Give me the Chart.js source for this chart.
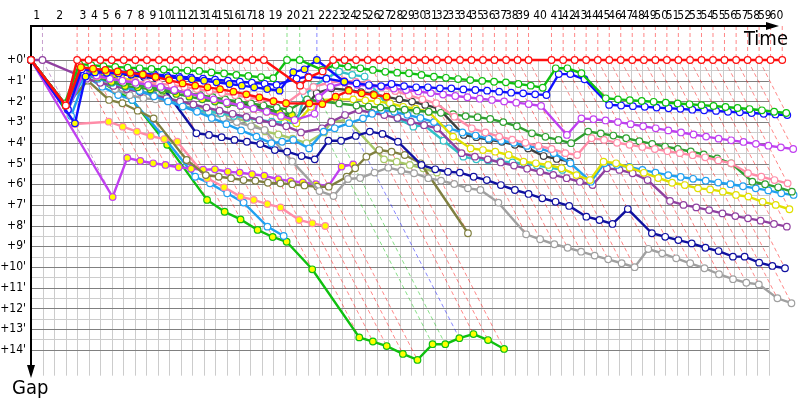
<!DOCTYPE html>
<html>
<head>
<meta charset="utf-8">
<title>Gap chart</title>
<script src="https://cdn.jsdelivr.net/npm/chart.js"></script>
<style>
  body { margin: 0; background: #fff; }
  #wrap { width: 800px; height: 400px; }
</style>
</head>
<body>
<div id="wrap"><canvas id="gapChart" width="800" height="400"></canvas></div>
<script>
// leader's race time (s) at the end of each lap, index = lap, 0 = start
var leaderTime = [0, 65, 261, 326, 392, 457, 525, 591, 656, 724,
  790, 855, 920, 985, 1054, 1119, 1184, 1253, 1318, 1449,
  1521, 1618, 1710, 1775, 1840, 1906, 1971, 2036, 2101, 2167,
  2232, 2297, 2362, 2428, 2493, 2558, 2623, 2689, 2754, 2816,
  2946, 3012, 3077, 3142, 3208, 3273, 3338, 3403, 3469, 3534,
  3599, 3664, 3730, 3795, 3860, 3925, 3991, 4056, 4121, 4186, 4252];
var gridStep = 65.26;   // vertical grid spacing (s)
var gapTicks = [0, 1, 2, 3, 4, 5, 6, 7, 8, 9, 10, 11, 12, 13, 14];

// gaps to the leader (minutes), one value per lap starting at lap 0
var redW = [0, 2.2, 0, 0, 0, 0, 0, 0, 0, 0, 0, 0, 0, 0, 0, 0, 0, 0, 0, 1.24, 0.84, 0.55,
  0, 0, 0, 0, 0, 0, 0, 0, 0, 0, 0, 0, 0, 0, 0, 0, 0, 0, 0, 0, 0, 0, 0, 0, 0, 0, 0, 0, 0, 0,
  0, 0, 0, 0, 0, 0, 0, 0, 0];
var redY = [0, 2.2, 0.35, 0.42, 0.48, 0.55, 0.62, 0.7, 0.82, 0.97, 1.13, 1.24, 1.32, 1.41, 1.53,
  1.66, 1.81, 1.99, 2.09, 2.1, 2.13, 1.77, 1.48, 1.61, 1.69, 1.77];
var greenW = [0, 2.1, 0.2, 0.25, 0.3, 0.33, 0.37, 0.4, 0.43, 0.46, 0.49, 0.51, 0.53, 0.6, 0.65,
  0.72, 0.77, 0.83, 0.88, 0, 0, 0.48, 0.24, 0.32, 0.4, 0.48, 0.57, 0.61, 0.64, 0.72, 0.81, 0.86,
  0.92, 0.97, 1.01, 1.05, 1.08, 1.16, 1.24, 1.34, 0.4, 0.4, 0.64, 1.85, 1.9, 1.94, 1.98, 2.02,
  2.06, 2.1, 2.14, 2.18, 2.22, 2.27, 2.32, 2.37, 2.43, 2.5, 2.56];
var blueW = [0, 2.4, 0.45, 0.5, 0.52, 0.55, 0.6, 0.65, 0.7, 0.75, 0.8, 0.85, 0.9, 0.95, 1.0, 1.05,
  1.1, 1.15, 1.2, 0.9, 0.8, 0.9, 1.05, 1.13, 1.21, 1.26, 1.16, 1.26, 1.32, 1.32, 1.37, 1.37, 1.42,
  1.45, 1.48, 1.53, 1.58, 1.61, 1.66, 1.69, 0.68, 0.68, 0.93, 2.17, 2.2, 2.23, 2.26, 2.3, 2.33,
  2.36, 2.4, 2.43, 2.46, 2.5, 2.53, 2.56, 2.6, 2.63, 2.66];
var blueY = [0, 3.06, 0.8, 0.6, 0.62, 0.65, 0.7, 0.74, 0.78, 0.83, 0.88, 0.93, 1.0, 1.08, 1.16,
  1.24, 1.32, 1.4, 1.48, 0.59, 0.45, 0, 1.05];
var magentaY = [0, 6.62, 4.73, 4.88, 4.99, 5.07, 5.18, 5.25, 5.3, 5.28, 5.4, 5.44, 5.52, 5.59,
  5.76, 5.85, 5.91, 6.0, 6.09, 5.15, 5.04];
var magentaW = [0, 2.4, 0.6, 0.75, 0.9, 1.0, 1.1, 1.2, 1.3, 1.45, 1.6, 1.75, 1.9, 2.05, 2.2, 2.35,
  2.5, 2.7, 2.9, 2.6, 1.8, 1.3, 1.1, 1.2, 1.25, 1.3, 1.38, 1.45, 1.52, 1.6, 1.67, 1.74, 1.8, 1.87,
  1.93, 2.0, 2.06, 2.13, 2.22, 3.62, 2.82, 2.86, 2.92, 3.0, 3.1, 3.2, 3.3, 3.4, 3.5, 3.6, 3.7,
  3.8, 3.88, 3.96, 4.05, 4.14, 4.22, 4.3];
var pinkY = [0, 3.09, 2.98, 3.22, 3.46, 3.67, 3.82, 3.95, 5.71, 6.15, 6.6, 6.76, 6.96, 7.12,
  7.73, 7.89, 8.02];
var pinkW = [0, 2.3, 0.6, 0.8, 0.9, 1.0, 1.05, 1.1, 1.15, 1.2, 1.3, 1.4, 1.5, 1.6, 1.7, 1.8, 1.9,
  2.0, 2.1, 1.5, 1.3, 1.1, 1.0, 1.05, 1.13, 1.3, 1.5, 1.7, 1.9, 2.09, 2.74, 3.3, 3.5, 3.7, 3.85,
  4.0, 4.15, 4.3, 4.5, 4.59, 3.78, 3.86, 4.0, 4.1, 4.2, 4.3, 4.4, 4.5, 4.6, 4.7, 4.85, 4.99,
  5.47, 5.64, 5.8, 5.96];
var dkgreenY = [0, 2.2, 0.57, 0.84, 1.06, 1.26, 1.32, 1.42, 1.48, 1.64, 1.77, 1.9, 2.01, 2.13,
  2.22, 2.29, 2.42, 2.55, 2.65];
var dkgreenW = [0, 2.2, 0.45, 0.7, 0.9, 1.1, 1.2, 1.3, 1.4, 1.5, 1.6, 1.7, 1.8, 1.9, 2.0, 2.1, 2.2,
  2.3, 2.4, 1.9, 2.0, 2.1, 2.2, 2.25, 2.3, 2.35, 2.4, 2.45, 2.5, 2.55, 2.62, 2.71, 2.76, 2.85, 3.0,
  3.2, 3.54, 3.71, 3.86, 4.02, 3.46, 3.55, 3.65, 3.78, 3.92, 4.05, 4.18, 4.3, 4.42, 4.56, 4.75,
  4.99, 5.88, 6.0, 6.15, 6.36];
var olive = [0, 2.2, 1.0, 1.93, 2.09, 2.45, 2.82, 4.83, 5.56, 5.64, 5.71, 5.8, 5.83, 5.93, 5.96,
  6.0, 6.06, 6.12, 6.12, 5.64, 5.23, 4.67, 4.35, 4.43, 4.59, 4.99, 8.37];
var lightOlive = [0, 2.2, 0.6, 1.0, 1.1, 1.35, 1.5, 1.65, 1.8, 2.0, 2.2, 2.4, 2.6, 2.8, 3.0, 3.45,
  3.6, 3.8, 4.02, 3.5, 2.98, 2.9, 4.8, 4.91, 5.07, 5.23, 5.44];
var gray = [0, 2.2, 0.5, 1.0, 1.4, 1.7, 1.85, 1.9, 1.98, 2.17, 2.42, 2.6, 2.8, 3.0, 3.2, 3.38,
  4.9, 6.33, 6.57, 5.75, 5.7, 5.44, 5.2, 5.35, 5.47, 5.71, 5.83, 5.99, 6.2, 6.28, 6.89, 8.42,
  8.66, 8.9, 9.07, 9.26, 9.45, 9.63, 9.82, 10.01, 9.13, 9.34, 9.58, 9.82, 10.06, 10.35, 10.59,
  10.76, 10.84, 11.51, 11.75];
var navy = [0, 2.3, 0.5, 0.55, 0.6, 0.68, 0.75, 0.82, 0.88, 3.54, 3.62, 3.73, 3.86, 3.95, 4.06,
  4.35, 4.43, 4.64, 4.8, 3.9, 3.9, 3.67, 3.46, 3.57, 3.95, 5.07, 5.28, 5.4, 5.44, 5.64, 5.8, 6.04,
  6.28, 6.47, 6.68, 6.85, 7.05, 7.57, 7.73, 7.92, 7.2, 8.37, 8.54, 8.7, 8.86, 9.07, 9.23, 9.5,
  9.5, 9.79, 9.95, 10.06];
var skyLow = [0, 2.7, 0.8, 1.29, 1.69, 1.93, 3.62, 5.64, 5.96, 6.44, 6.89, 8.05, 8.5];
var greenY = [0, 2.2, 0.35, 1.0, 1.5, 1.93, 4.1, 6.76, 7.33, 7.7, 8.21, 8.55, 8.78, 10.11, 13.4,
  13.6, 13.82, 14.2, 14.49, 13.73, 13.73, 13.44, 13.24, 13.53, 13.96];
var cyan = [0, 2.3, 0.6, 0.8, 1.0, 1.2, 1.45, 1.7, 1.93, 2.22, 2.42, 2.5, 2.57, 2.7, 2.8, 2.9,
  2.98, 3.03, 3.05, 1.69, 1.29, 0.88, 0.56, 0.72, 0.8, 2.82, 3.22, 3.14, 3.9, 4.67, 4.8, 4.85,
  4.9, 4.95, 5.0, 5.1, 5.2, 5.31];
var black = [0, 2.3, 0.5, 0.6, 0.75, 0.9, 1.05, 1.2, 1.3, 1.45, 1.6, 1.75, 1.9, 2.0, 2.1, 2.2,
  2.3, 2.57, 2.9, 2.06, 1.6, 1.37, 1.45, 1.55, 1.65, 1.78, 1.9, 2.01, 2.17, 2.35, 3.62, 3.73,
  3.86, 3.95, 4.1, 4.27, 4.64, 4.78, 4.91];
var yellow = [0, 2.3, 0.5, 0.6, 0.7, 0.85, 1.0, 1.15, 1.3, 1.45, 1.6, 1.75, 1.9, 2.05, 2.2, 2.35,
  2.5, 2.75, 3.06, 2.26, 1.93, 1.9, 1.9, 1.95, 2.0, 2.09, 2.26, 2.35, 2.5, 3.7, 4.27, 4.35, 4.43,
  4.59, 4.91, 4.99, 5.07, 5.23, 5.56, 5.8, 4.91, 4.99, 5.2, 5.45, 5.7, 5.93, 6.04, 6.2, 6.25,
  6.36, 6.52, 6.6, 6.85, 7.0, 7.21];
var purple = [0, 0, 0.9, 1.1, 1.25, 1.4, 1.55, 1.7, 1.85, 2.0, 2.15, 2.3, 2.45, 2.6, 2.75, 2.9,
  3.05, 3.2, 3.5, 3.3, 2.98, 2.66, 2.42, 2.55, 2.66, 2.8, 2.98, 3.15, 3.3, 4.5, 4.67, 4.8, 4.95,
  5.1, 5.25, 5.4, 5.55, 5.71, 5.88, 6.04, 5.23, 5.31, 5.47, 5.8, 6.81, 7.0, 7.12, 7.25, 7.41,
  7.54, 7.65, 7.76, 7.92, 8.05];
var sky = [0, 2.4, 0.7, 0.9, 1.1, 1.3, 1.5, 1.75, 2.0, 2.25, 2.5, 2.8, 3.1, 3.4, 3.7, 4.02, 3.95,
  3.86, 4.27, 3.46, 3.3, 3.05, 2.82, 2.6, 2.42, 2.5, 2.65, 2.8, 3.0, 3.3, 3.5, 3.65, 3.8, 3.9,
  4.0, 4.15, 4.27, 4.5, 4.99, 5.88, 4.99, 5.07, 5.17, 5.31, 5.44, 5.56, 5.65, 5.74, 5.83, 5.92,
  6.0, 6.1, 6.2, 6.3, 6.44, 6.52];

// line colour, point fill; first entry is drawn on top
var series = [
  [redW, '#ff1010', '#ffffff'],
  [redY, '#ff1010', '#ffff00'],
  [greenW, '#10c010', '#ffffff'],
  [blueY, '#1010ff', '#ffff00'],
  [blueW, '#1010ff', '#ffffff'],
  [magentaW, '#c040f0', '#ffffff'],
  [pinkW, '#ff8ca8', '#ffffff'],
  [dkgreenW, '#30a030', '#ffffff'],
  [dkgreenY, '#30a030', '#ffff00'],
  [yellow, '#e0e000', '#ffffff'],
  [sky, '#20a0f0', '#ffffff'],
  [purple, '#9040a0', '#ffffff'],
  [cyan, '#30c0c8', '#ffffff'],
  [black, '#404040', '#ffffff'],
  [navy, '#1010a0', '#ffffff'],
  [gray, '#a0a0a0', '#ffffff'],
  [olive, '#808040', '#ffffff'],
  [lightOlive, '#a8c868', '#ffffff'],
  [magentaY, '#c040f0', '#ffff00'],
  [pinkY, '#ff8ca8', '#ffff00'],
  [skyLow, '#20a0f0', '#ffffff'],
  [greenY, '#10c010', '#ffff00']
];

function toPoints(gaps) {
  return gaps.map(function(g, lap) {
    return { x: leaderTime[lap] + g * 60, y: g };
  });
}

// deepest gap and leader colour for every lap (for the lap lines)
var lapDepth = [], lapColor = [];
for (var lap = 0; lap < leaderTime.length; lap++) {
  var deep = 0, best = 99, col = '#ff1010';
  series.forEach(function(s) {
    var g = s[0][lap];
    if (g === undefined) return;
    if (g > deep) deep = g;
    if (g < best) { best = g; col = s[1]; }
  });
  lapDepth.push(deep);
  lapColor.push(col);
}

var labelPos = [];
for (var k = 1; k <= 60; k++) labelPos.push((leaderTime[k - 1] + leaderTime[k]) / 2);

function fade(hex, a) {
  var r = parseInt(hex.substr(1, 2), 16), g = parseInt(hex.substr(3, 2), 16), b = parseInt(hex.substr(5, 2), 16);
  return 'rgba(' + r + ',' + g + ',' + b + ',' + a + ')';
}

var FONT = '"DejaVu Sans Condensed", "DejaVu Sans", sans-serif';

// where the origin sits on the page and how many pixels one unit takes
var ORIGIN_X = 31, ORIGIN_Y = 60, PX_PER_SEC = 0.17668, PX_PER_MIN = 20.7;

var lapGrid = {
  id: 'lapGrid',
  beforeDatasetsDraw: function(chart) {
    var ctx = chart.ctx, xs = chart.scales.x, ys = chart.scales.y;
    var x0 = xs.getPixelForValue(0), x1 = xs.getPixelForValue(gridStep * 64);
    var y0 = ys.getPixelForValue(0), y1 = ys.getPixelForValue(15.25);
    ctx.save();
    ctx.lineWidth = 1;
    // vertical grid
    ctx.strokeStyle = '#cccccc';
    for (var i = 1; i <= 64; i++) {
      var px = Math.round(xs.getPixelForValue(i * gridStep)) + 0.5;
      ctx.beginPath(); ctx.moveTo(px, y0); ctx.lineTo(px, y1); ctx.stroke();
    }
    // horizontal grid, half minutes light, minutes dark
    for (var h = 1; h < 28; h += 2) {
      var py = Math.round(ys.getPixelForValue(h / 2)) + 0.5;
      ctx.beginPath(); ctx.moveTo(x0, py); ctx.lineTo(x1, py); ctx.stroke();
    }
    ctx.strokeStyle = '#808080';
    gapTicks.forEach(function(v) {
      var py = Math.round(ys.getPixelForValue(v)) + 0.5;
      ctx.beginPath(); ctx.moveTo(x0, py); ctx.lineTo(x1, py); ctx.stroke();
    });
    // lap lines: vertical to the leader, then along constant lap
    ctx.setLineDash([4, 3]);
    for (var lap = 1; lap < leaderTime.length; lap++) {
      var t = leaderTime[lap];
      var lx = xs.getPixelForValue(t);
      ctx.strokeStyle = fade(lapColor[lap], 0.5);
      ctx.beginPath();
      ctx.moveTo(lx, chart.chartArea.top);
      ctx.lineTo(lx, y0);
      ctx.lineTo(xs.getPixelForValue(t + lapDepth[lap] * 60), ys.getPixelForValue(lapDepth[lap]));
      ctx.stroke();
    }
    ctx.setLineDash([]);
    // axes with arrows
    var top = chart.chartArea.top, left = xs.getPixelForValue(0);
    ctx.strokeStyle = '#000';
    ctx.fillStyle = '#000';
    ctx.lineWidth = 2;
    ctx.beginPath();
    ctx.moveTo(left, 368); ctx.lineTo(left, top); ctx.lineTo(768, top);
    ctx.stroke();
    ctx.beginPath();
    ctx.moveTo(779, top); ctx.lineTo(766, top - 4); ctx.lineTo(766, top + 4); ctx.closePath(); ctx.fill();
    ctx.beginPath();
    ctx.moveTo(left, 378); ctx.lineTo(left - 4, 365); ctx.lineTo(left + 4, 365); ctx.closePath(); ctx.fill();
    ctx.restore();
  },
  afterDraw: function(chart) {
    var ctx = chart.ctx;
    ctx.save();
    ctx.fillStyle = '#000';
    ctx.font = '20px ' + FONT;
    ctx.textBaseline = 'alphabetic';
    ctx.textAlign = 'left';
    ctx.fillText('Time', 744, 45);
    ctx.fillText('Gap', 12, 394);
    ctx.restore();
  }
};

var datasets = series.map(function(s) {
  return {
    data: toPoints(s[0]),
    borderColor: s[1],
    backgroundColor: s[1],
    borderWidth: 2.4,
    pointRadius: 3.3,
    pointBorderWidth: 1.2,
    pointBorderColor: s[1],
    pointBackgroundColor: s[2],
    showLine: true,
    tension: 0,
    clip: false
  };
});

function noPad(s) {
  s.paddingLeft = 0; s.paddingRight = 0; s.paddingTop = 0; s.paddingBottom = 0;
}

var chart = new Chart(document.getElementById('gapChart'), {
  type: 'scatter',
  data: { datasets: datasets },
  plugins: [lapGrid],
  options: {
    responsive: false,
    animation: false,
    devicePixelRatio: 1,
    layout: { padding: 0 },
    plugins: { legend: { display: false }, tooltip: { enabled: false } },
    scales: {
      x: { type: 'linear', min: 0, max: 4352.5, display: false },
      lapAxis: {
        type: 'linear', position: 'top', min: 0, max: 4352.5,
        afterFit: function(s) { s.height = 26; noPad(s); },
        afterBuildTicks: function(s) { s.ticks = labelPos.map(function(v) { return { value: v }; }); },
        ticks: {
          autoSkip: false, maxRotation: 0, padding: 3, color: '#000',
          font: { family: FONT, size: 12 },
          callback: function(v, i) { return String(i + 1); }
        },
        grid: { display: false, drawTicks: false },
        border: { display: false }
      },
      y: {
        type: 'linear', position: 'left', reverse: true, min: -1.643, max: 16.425,
        afterFit: function(s) { s.width = 31; noPad(s); },
        afterBuildTicks: function(s) { s.ticks = gapTicks.map(function(v) { return { value: v }; }); },
        ticks: {
          padding: 5, color: '#000',
          font: { family: FONT, size: 12 },
          callback: function(v) { return '+' + v + "'"; }
        },
        grid: { display: false, drawTicks: false },
        border: { display: false }
      }
    }
  }
});

// fit the scale ranges to the real plot area so the origin and unit sizes match
var ca = chart.chartArea;
var sc = chart.options.scales;
sc.x.min = sc.lapAxis.min = (ca.left - ORIGIN_X) / PX_PER_SEC;
sc.x.max = sc.lapAxis.max = (ca.right - ORIGIN_X) / PX_PER_SEC;
sc.y.min = (ca.top - ORIGIN_Y) / PX_PER_MIN;
sc.y.max = (ca.bottom - ORIGIN_Y) / PX_PER_MIN;
chart.update();
</script>
</body>
</html>
